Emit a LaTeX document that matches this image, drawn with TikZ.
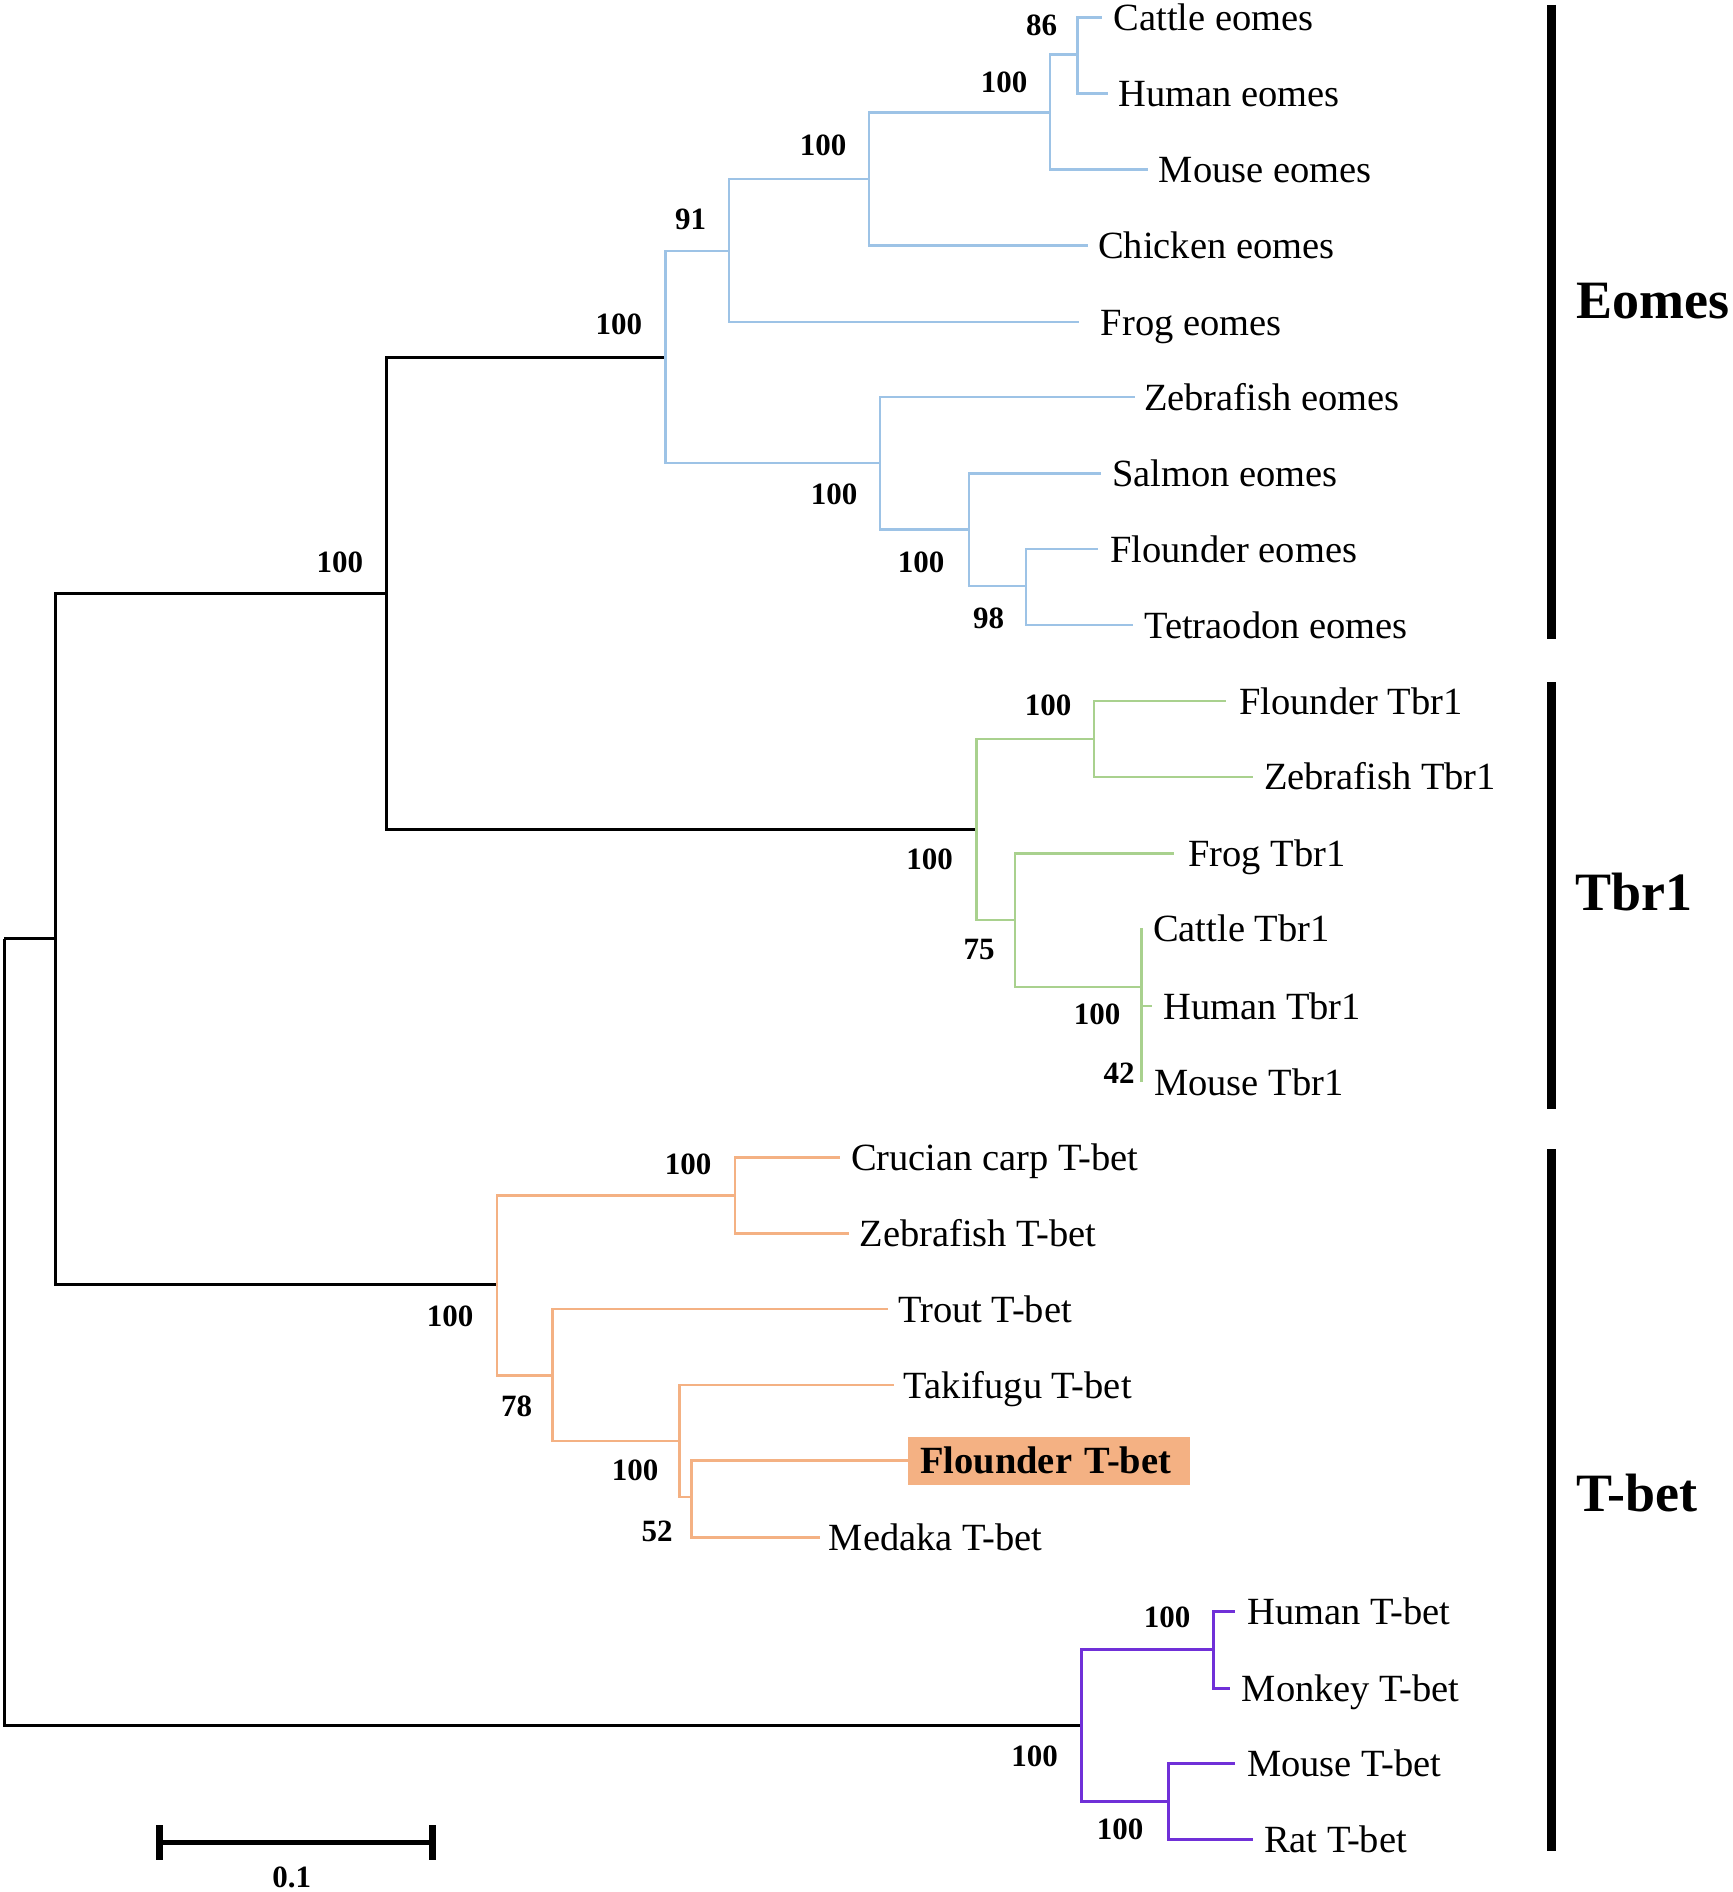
\documentclass[tikz,border=0pt]{standalone}
\usepackage{fontspec}
\setmainfont{Liberation Serif}
\definecolor{eblue}{RGB}{157,195,230}
\definecolor{tgreen}{RGB}{169,209,142}
\definecolor{borange}{RGB}{244,177,131}
\definecolor{mpurple}{RGB}{112,48,216}
\begin{document}
\begin{tikzpicture}[x=1pt,y=-1pt,
  leaf/.style={anchor=base west,inner sep=0pt,font=\fontsize{38.5}{40}\selectfont},
  boot/.style={inner sep=0pt,font=\fontsize{31}{33}\selectfont\bfseries},
  grp/.style={anchor=west,inner sep=0pt,font=\fontsize{54}{56}\selectfont\bfseries},
  blk/.style={draw=black,line width=3pt},
  eb/.style={draw=eblue,line width=2.6pt},
  tg/.style={draw=tgreen,line width=2.6pt},
  bo/.style={draw=borange,line width=2.6pt},
  mp/.style={draw=mpurple,line width=3pt},
  grpbar/.style={draw=black,line width=9pt},
  sbar/.style={draw=black,line width=5pt},
  stick/.style={draw=black,line width=7pt}]
\useasboundingbox (0,0) rectangle (1732,1892);

% ---------- internal nodes ----------
\coordinate (R) at (4.4,938.8);
\coordinate (A) at (55.2,938.8);
\coordinate (B) at (386.7,593.4);
\coordinate (E) at (665.7,357);
\coordinate (E91) at (729,251);
\coordinate (E100a) at (869,179);
\coordinate (E100b) at (1050,112.8);
\coordinate (E86) at (1077.5,54.7);
\coordinate (EF) at (880,463);
\coordinate (ES) at (969,529.5);
\coordinate (EFT) at (1026,586);
\coordinate (T) at (976.5,829.4);
\coordinate (T100a) at (1094,738.9);
\coordinate (T75) at (1015,919.9);
\coordinate (T100b) at (1141.7,987);
\coordinate (T42) at (1141.7,1044);
\coordinate (F) at (497,1284.5);
\coordinate (F100a) at (734.8,1195.6);
\coordinate (F78) at (552.5,1375.2);
\coordinate (F100b) at (679.6,1441);
\coordinate (F52) at (691.7,1497);
\coordinate (M) at (1081.5,1725.8);
\coordinate (M100a) at (1213,1649.6);
\coordinate (M100b) at (1168,1801);

% ---------- leaf line ends ----------
\coordinate (lCattleE) at (1102,17.7);
\coordinate (lHumanE) at (1108,93.4);
\coordinate (lMouseE) at (1147.7,169.6);
\coordinate (lChickenE) at (1088,245.4);
\coordinate (lFrogE) at (1078.6,322);
\coordinate (lZebraE) at (1135,397);
\coordinate (lSalmonE) at (1100.7,473.5);
\coordinate (lFlounderE) at (1098,549);
\coordinate (lTetraE) at (1133,625);
\coordinate (lFlounderT) at (1226,701);
\coordinate (lZebraT) at (1252.7,776.8);
\coordinate (lFrogT) at (1173.7,853.4);
\coordinate (lCattleT) at (1141.7,928);
\coordinate (lHumanT) at (1152,1006);
\coordinate (lMouseT) at (1141.7,1082);
\coordinate (lCrucian) at (839.8,1157.7);
\coordinate (lZebraB) at (849,1233.4);
\coordinate (lTrout) at (888,1309);
\coordinate (lTaki) at (893.6,1385);
\coordinate (lMedaka) at (820.4,1537.5);
\coordinate (lHumanB) at (1235,1611.7);
\coordinate (lMonkey) at (1229.5,1688);
\coordinate (lMouseB) at (1235,1763);
\coordinate (lRat) at (1252.6,1839);

% ---------- black backbone ----------
\draw[blk] (R) |- (A);
\draw[blk] (R) |- (M);
\draw[blk] (A) |- (B);
\draw[blk] (A) |- (F);
\draw[blk] (B) |- (E);
\draw[blk] (B) |- (T);

% ---------- Eomes ----------
\draw[eb] (E) |- (E91);
\draw[eb] (E) |- (EF);
\draw[eb] (E91) |- (E100a);
\draw[eb] (E91) |- (lFrogE);
\draw[eb] (E100a) |- (E100b);
\draw[eb] (E100a) |- (lChickenE);
\draw[eb] (E100b) |- (E86);
\draw[eb] (E100b) |- (lMouseE);
\draw[eb] (E86) |- (lCattleE);
\draw[eb] (E86) |- (lHumanE);
\draw[eb] (EF) |- (lZebraE);
\draw[eb] (EF) |- (ES);
\draw[eb] (ES) |- (lSalmonE);
\draw[eb] (ES) |- (EFT);
\draw[eb] (EFT) |- (lFlounderE);
\draw[eb] (EFT) |- (lTetraE);

% ---------- Tbr1 ----------
\draw[tg] (T) |- (T100a);
\draw[tg] (T) |- (T75);
\draw[tg] (T100a) |- (lFlounderT);
\draw[tg] (T100a) |- (lZebraT);
\draw[tg] (T75) |- (lFrogT);
\draw[tg] (T75) |- (T100b);
\draw[tg] (T100b) |- (lCattleT);
\draw[tg] (T100b) |- (T42);
\draw[tg] (T42) |- (lHumanT);
\draw[tg] (T42) |- (lMouseT);

% ---------- T-bet fish ----------
\node[fill=borange,anchor=west,inner xsep=12pt,inner ysep=0pt,minimum height=48pt,
      text width=258pt,align=left,
      font=\fontsize{38.5}{40}\selectfont\bfseries] (flbox) at (908,1460.6) {Flounder T-bet};
\draw[bo] (F) |- (F100a);
\draw[bo] (F) |- (F78);
\draw[bo] (F100a) |- (lCrucian);
\draw[bo] (F100a) |- (lZebraB);
\draw[bo] (F78) |- (lTrout);
\draw[bo] (F78) |- (F100b);
\draw[bo] (F100b) |- (lTaki);
\draw[bo] (F100b) |- (F52);
\draw[bo] (F52) |- (flbox.west);
\draw[bo] (F52) |- (lMedaka);

% ---------- T-bet mammals ----------
\draw[mp] (M) |- (M100a);
\draw[mp] (M) |- (M100b);
\draw[mp] (M100a) |- (lHumanB);
\draw[mp] (M100a) |- (lMonkey);
\draw[mp] (M100b) |- (lMouseB);
\draw[mp] (M100b) |- (lRat);

% ---------- leaf labels ----------
\node[leaf] (tCattleE) at (1113.5,31) {Cattle eomes};
\node[leaf] (tHumanE) at (1118,106.5) {Human eomes};
\node[leaf] (tMouseE) at (1158.7,182.6) {Mouse eomes};
\node[leaf] (tChickenE) at (1098,258.4) {Chicken eomes};
\node[leaf] (tFrogE) at (1100.7,335) {Frog eomes};
\node[leaf] (tZebraE) at (1143.8,410) {Zebrafish eomes};
\node[leaf] (tSalmonE) at (1111.8,486.5) {Salmon eomes};
\node[leaf] (tFlounderE) at (1110,562) {Flounder eomes};
\node[leaf] (tTetraE) at (1144,638) {Tetraodon eomes};
\node[leaf] (tFlounderT) at (1239,714) {Flounder Tbr1};
\node[leaf] (tZebraT) at (1263.8,789.8) {Zebrafish Tbr1};
\node[leaf] (tFrogT) at (1188,866.4) {Frog Tbr1};
\node[leaf] (tCattleT) at (1153,941) {Cattle Tbr1};
\node[leaf] (tHumanT) at (1163,1019) {Human Tbr1};
\node[leaf] (tMouseT) at (1154,1095) {Mouse Tbr1};
\node[leaf] (tCrucian) at (850.8,1170.7) {Crucian carp T-bet};
\node[leaf] (tZebraB) at (859.4,1246.4) {Zebrafish T-bet};
\node[leaf] (tTrout) at (898,1322) {Trout T-bet};
\node[leaf] (tTaki) at (903.6,1398) {Takifugu T-bet};
\node[leaf] (tMedaka) at (828.7,1550.5) {Medaka T-bet};
\node[leaf] (tHumanB) at (1247,1624.7) {Human T-bet};
\node[leaf] (tMonkey) at (1241.6,1701) {Monkey T-bet};
\node[leaf] (tMouseB) at (1247,1776) {Mouse T-bet};
\node[leaf] (tRat) at (1263.8,1852) {Rat T-bet};

% ---------- bootstrap values ----------
\node[boot] (b86) at (1041.6,25) {86};
\node[boot] (b100e1) at (1004,82) {100};
\node[boot] (b100e2) at (823,145) {100};
\node[boot] (b91) at (690.6,219) {91};
\node[boot] (b100e3) at (618.8,324) {100};
\node[boot] (b100e4) at (834,494.5) {100};
\node[boot] (b100e5) at (921,562) {100};
\node[boot] (b98) at (988.6,618.7) {98};
\node[boot] (b100B) at (339.8,562) {100};
\node[boot] (b100t1) at (1048,705) {100};
\node[boot] (b100t2) at (929.5,858.9) {100};
\node[boot] (b75) at (979,949) {75};
\node[boot] (b100t3) at (1097,1014.6) {100};
\node[boot] (b42) at (1119,1073.5) {42};
\node[boot] (b100f1) at (688,1164) {100};
\node[boot] (b100f2) at (450,1316) {100};
\node[boot] (b78) at (516.6,1406.8) {78};
\node[boot] (b100f3) at (635,1470) {100};
\node[boot] (b52) at (657,1531) {52};
\node[boot] (b100m1) at (1167,1617) {100};
\node[boot] (b100m2) at (1034.5,1756) {100};
\node[boot] (b100m3) at (1120,1829.7) {100};

% ---------- group bars and labels ----------
\coordinate (gE1) at (1551,5);   \coordinate (gE2) at (1551,639);
\coordinate (gT1) at (1551,682); \coordinate (gT2) at (1551,1109);
\coordinate (gB1) at (1551,1149);\coordinate (gB2) at (1551,1851);
\draw[grpbar] (gE1) -- (gE2);
\draw[grpbar] (gT1) -- (gT2);
\draw[grpbar] (gB1) -- (gB2);
\node[grp] (gEomes) at (1576,301) {Eomes};
\node[grp] (gTbr1) at (1575,892.5) {Tbr1};
\node[grp] (gTbet) at (1576,1493) {T-bet};

% ---------- scale bar ----------
\coordinate (sbL) at (159,1842.4);
\coordinate (sbR) at (432.6,1842.4);
\draw[sbar] (sbL) -- (sbR);
\draw[stick] ([yshift=17pt]sbL) -- ([yshift=-17.5pt]sbL);
\draw[stick] ([yshift=17pt]sbR) -- ([yshift=-17.5pt]sbR);
\node[boot] (sbT) at (291.7,1877) {0.1};
\end{tikzpicture}
\end{document}
